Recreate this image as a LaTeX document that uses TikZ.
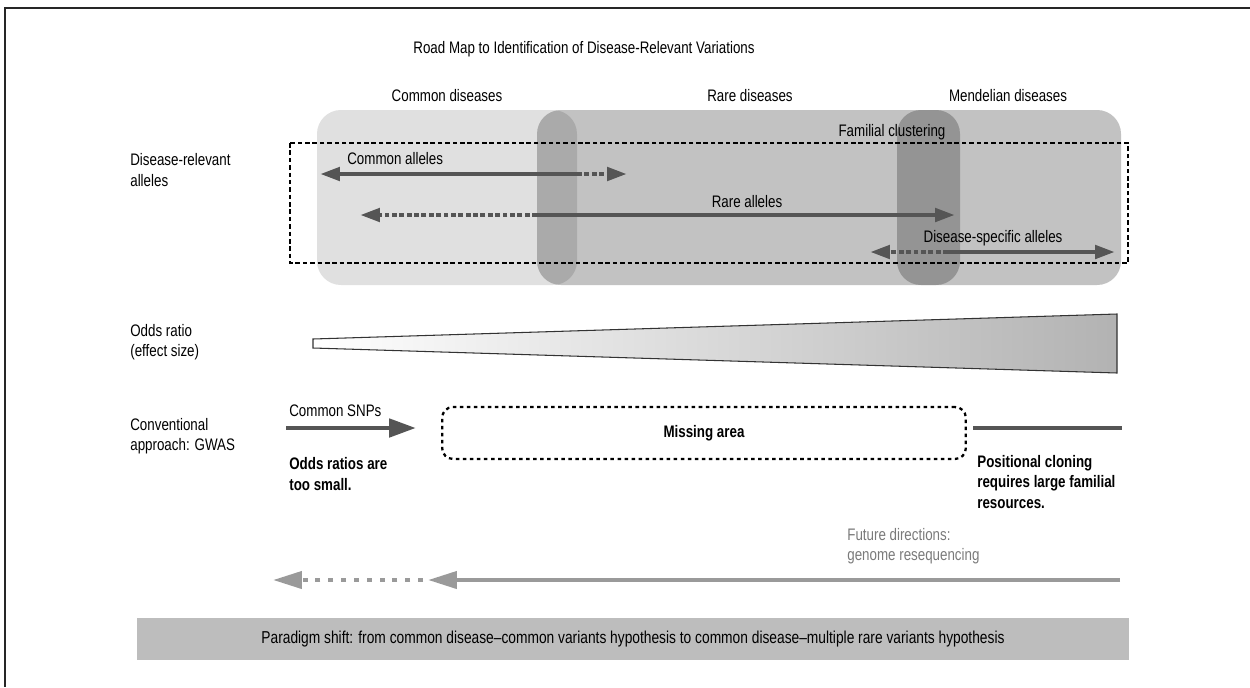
\documentclass[tikz,border=0pt]{standalone}
\usepackage{fontspec}
\setmainfont{Liberation Sans}[FakeStretch=0.8]
\usetikzlibrary{arrows.meta}
\definecolor{shaft}{HTML}{555555}
\definecolor{future}{HTML}{9A9A9A}
\definecolor{futuretext}{HTML}{7A7A7A}
\definecolor{shiftbar}{HTML}{BDBDBD}
\newcommand\lbl{\fontsize{9.5}{11.5}\selectfont}
\tikzset{
  txt/.style={font=\lbl, inner sep=0pt, align=left},
  boldtxt/.style={font=\lbl\bfseries, inner sep=0pt, align=left},
  allele/.style={draw=shaft, line width=2.55pt},
  solidpart/.style={allele, -{Triangle[length=11.3pt,width=7.4pt]}},
  dotpart/.style={allele, dash pattern=on 2.8pt off 1.4pt, -{Triangle[length=11.3pt,width=7.4pt]}},
  diseasebox/.style={fill=black, rounded corners=13.6pt},
}

\begin{document}
\begin{tikzpicture}[x=0.02cm, y=-0.02cm]
\useasboundingbox (0,0) rectangle (1250,687);
\draw[line width=0.9pt, black!85] (1250,8) -- (5,8) -- (5,687);

% disease groups
\fill[diseasebox, fill opacity=0.12] (317,110) rectangle (577,285);
\fill[diseasebox, fill opacity=0.24] (537,110) rectangle (960,285);
\fill[diseasebox, fill opacity=0.24] (897,110) rectangle (1121,285);
\draw[line width=0.6pt, dash pattern=on 2.6pt off 1.6pt] (290,143) rectangle (1128,263);

\node[txt] (title) at (584,49) {Road Map to Identification of Disease-Relevant Variations};
\node[txt] (common) at (447,96) {Common diseases};
\node[txt] (rare) at (750,96) {Rare diseases};
\node[txt] (mendel) at (1008,96) {Mendelian diseases};
\node[txt] (famil) at (892,132) {Familial clustering};

\node[txt, anchor=west] (relev) at (130,170) {Disease-relevant\\alleles};
\node[txt, anchor=west] (odds) at (130,342) {Odds ratio\\(effect size)};
\node[txt, anchor=west] (conv) at (130,436) {Conventional\\approach: GWAS};

% alleles
\node[txt, anchor=west] (cal) at (347,159) {Common alleles};
\node[txt] (ral) at (747,202) {Rare alleles};
\node[txt] (dsal) at (993,238) {Disease-specific alleles};
\coordinate (ca-l) at (320,174);
\coordinate (ca-m) at (577,174);
\coordinate (ca-r) at (627,174);
\coordinate (ra-l) at (360,215);
\coordinate (ra-m) at (537,215);
\coordinate (ra-r) at (955,215);
\coordinate (ds-l) at (870,252);
\coordinate (ds-m) at (948,252);
\coordinate (ds-r) at (1115,252);
\draw[solidpart] (ca-m) -- (ca-l);
\draw[dotpart] (ca-m) -- (ca-r);
\draw[dotpart] (ra-m) -- (ra-l);
\draw[solidpart] (ra-m) -- (ra-r);
\draw[dotpart] (ds-m) -- (ds-l);
\draw[solidpart] (ds-m) -- (ds-r);

% odds ratio wedge
\shadedraw[left color=white, right color=black!30, draw=black!80, line width=0.6pt]
  (313,339) -- (1117,314) -- (1117,373) -- (313,348) -- cycle;

% GWAS
\node[txt, anchor=west] (snps) at (289,411) {Common SNPs};
\coordinate (snp-l) at (286,428);
\coordinate (snp-r) at (416,428);
\draw[draw=shaft, line width=2.8pt, -{Triangle[length=15.3pt,width=10.2pt]}] (snp-l) -- (snp-r);
\node[boldtxt, anchor=west] (small) at (289,474) {Odds ratios are\\too small.};
\node[boldtxt, draw, line width=1.3pt, dash pattern=on 2pt off 2pt, rounded corners=6pt,
  minimum width=298pt, minimum height=29.5pt] (miss) at (704,433) {Missing area};
\coordinate (pc-l) at (973,428);
\coordinate (pc-r) at (1122,428);
\draw[allele] (pc-l) -- (pc-r);
\node[boldtxt, anchor=west] (posit) at (977,482) {Positional cloning\\requires large familial\\resources.};

% future
\node[txt, anchor=west, text=futuretext] (fut) at (847,546) {Future directions:\\genome resequencing};
\coordinate (fd-r) at (1120,580);
\coordinate (fd-m) at (428,580);
\coordinate (fd-d) at (423,580);
\coordinate (fd-l) at (273,580);
\draw[draw=future, line width=2.4pt, -{Triangle[length=16.4pt,width=9.6pt]}] (fd-r) -- (fd-m);
\draw[draw=future, line width=2.4pt, dash pattern=on 2.8pt off 4.5pt, -{Triangle[length=16.4pt,width=9.6pt]}] (fd-d) -- (fd-l);

\node[txt, fill=shiftbar, minimum width=564.7pt, minimum height=23.8pt] (shift) at (633,639)
  {\fontsize{9.8}{11.5}\selectfont Paradigm shift: from common disease--common variants hypothesis to common disease--multiple rare variants hypothesis};
\end{tikzpicture}
\end{document}
